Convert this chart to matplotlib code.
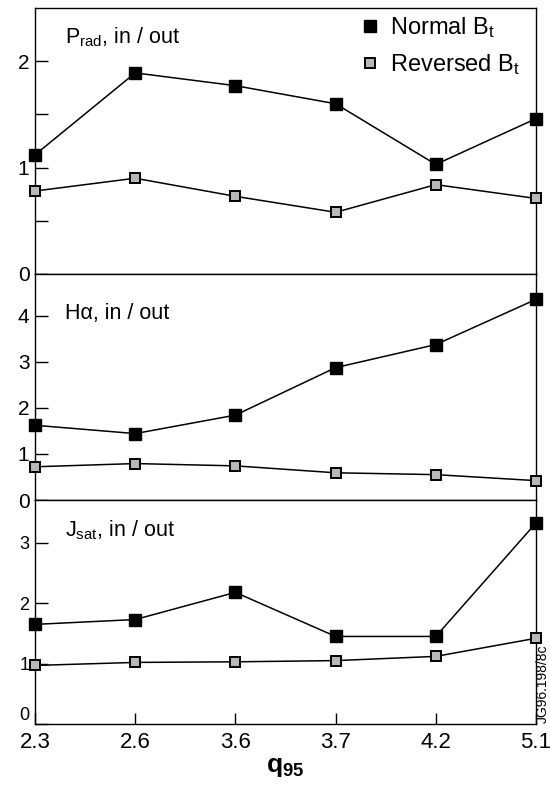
import numpy as np
import matplotlib
matplotlib.use("Agg")
import matplotlib.pyplot as plt

plt.rcParams['font.family'] = ['Liberation Sans', 'DejaVu Sans']
plt.rcParams['mathtext.fontset'] = 'custom'
plt.rcParams['mathtext.rm'] = 'Liberation Sans'
plt.rcParams['mathtext.it'] = 'Liberation Sans:italic'
plt.rcParams['mathtext.bf'] = 'Liberation Sans:bold'

# q95 scan points (equally spaced on the axis)
q95 = ["2.3", "2.6", "3.6", "3.7", "4.2", "5.1"]

# in/out ratios for normal and reversed toroidal field
prad_normal = [1.12, 1.89, 1.77, 1.60, 1.03, 1.46]
prad_reversed = [0.78, 0.90, 0.73, 0.58, 0.84, 0.71]
halpha_normal = [1.62, 1.44, 1.84, 2.87, 3.37, 4.35]
halpha_reversed = [0.72, 0.79, 0.74, 0.59, 0.55, 0.42]
jsat_normal = [1.65, 1.73, 2.18, 1.45, 1.45, 3.33]
jsat_reversed = [0.97, 1.02, 1.03, 1.05, 1.12, 1.42]

panel_labels = [r"P$_{\rm rad}$, in / out", "H\u03b1, in / out", r"J$_{\rm sat}$, in / out"]
panel_data = [(prad_normal, prad_reversed),
              (halpha_normal, halpha_reversed),
              (jsat_normal, jsat_reversed)]
ylims = [2.5, 4.9, 3.71]
yticks = [[0, 1, 2], [0, 1, 2, 3, 4], [0, 1, 2, 3]]
yminor = [[0.5, 1.5], [], []]
label_y = [0.89, 0.827, 0.866]
ylabel_size = [15, 15, 13]

fig = plt.figure(figsize=(5.5, 7.98), dpi=100)
W, H = 550.0, 798.0
left, right = 35 / W, 536 / W
bounds = [(8, 274), (274, 500), (500, 724)]

x = np.arange(len(q95))
axes = []
for i, (top, bot) in enumerate(bounds):
    ax = fig.add_axes([left, 1 - bot / H, right - left, (bot - top) / H])
    axes.append(ax)
    normal, reversed_ = panel_data[i]
    ax.plot(x, normal, color='black', lw=1.1, marker='s', ms=8.8,
            mfc='black', mec='black', label=r"Normal B$_{\rm t}$", clip_on=False, zorder=3)
    ax.plot(x, reversed_, color='black', lw=1.1, marker='s', ms=7.2,
            mfc='#b8b8b8', mec='black', mew=1.4, label=r"Reversed B$_{\rm t}$", clip_on=False, zorder=3)
    ax.set_xlim(0, len(q95) - 1)
    ax.set_ylim(0, ylims[i])
    ax.set_yticks(yticks[i])
    ax.set_yticks(yminor[i], minor=True)
    ax.tick_params(axis='y', direction='in', length=9, width=1, labelsize=ylabel_size[i], pad=4, right=False)
    ax.tick_params(axis='y', which='minor', direction='in', length=9, width=1)
    ax.tick_params(axis='x', direction='in', length=8, width=1, top=False)
    for s in ax.spines.values():
        s.set_linewidth(1.0)
    ax.text(0.06, label_y[i], panel_labels[i], transform=ax.transAxes,
            fontsize=15.5, va='center', ha='left')
    ax.set_xticks(x)
    if i < 2:
        ax.tick_params(axis='x', labelbottom=False, length=0)

# the lowest y label sits just above the q95 labels
axes[2].get_yticklabels()[0].set_verticalalignment('bottom')
axes[2].set_xticklabels(q95, fontsize=16)
axes[2].tick_params(axis='x', pad=6)
axes[2].set_xlabel(r"q$_{\mathbf{95}}$", fontsize=19, fontweight='bold', labelpad=1)

leg = axes[0].legend(loc='upper left', bbox_to_anchor=(0.62, 1.035), frameon=False,
                     fontsize=17, handlelength=0.7, handletextpad=0.5, labelspacing=0.5,
                     borderpad=0.2, markerscale=1.0, numpoints=1)
for line in leg.get_lines():
    line.set_linestyle('none')

fig.text(543 / W, 1 - 684 / H, "JG96.198/8c", rotation=90, fontsize=10,
         ha='center', va='center')

fig.savefig("out.png", dpi=100)
